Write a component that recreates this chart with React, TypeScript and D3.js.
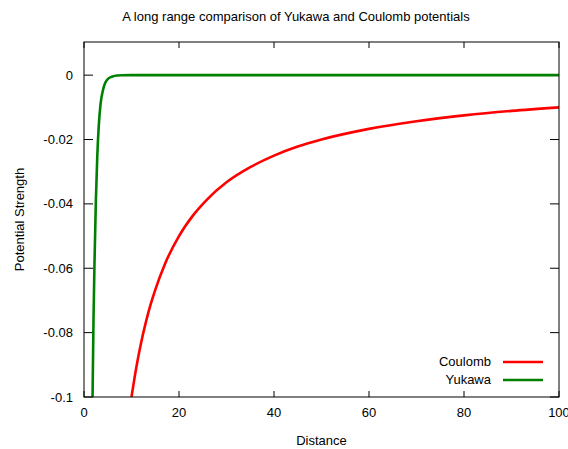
import React from 'react';
import * as d3 from 'd3';

// values
const coulombX = [10, 11, 12, 13, 14, 15, 17, 20, 23, 26, 30, 35, 40, 45, 50, 60, 70, 80, 90, 100];
const coulombY = [-0.1, -0.0909, -0.0833, -0.0769, -0.0714, -0.0667, -0.0588, -0.05, -0.0435, -0.0385, -0.0333, -0.0286, -0.025, -0.0222, -0.02, -0.0167, -0.0143, -0.0125, -0.0111, -0.01];

const yukawaX = [1.8, 2.0, 2.2, 2.5, 2.8, 3.1, 3.5, 4.0, 4.5, 5, 6, 7, 8, 10, 20, 40, 60, 80, 100];
const yukawaY = [-0.1, -0.076, -0.059, -0.039, -0.025, -0.016, -0.0088, -0.0046, -0.0023, -0.0012, -0.0004, -0.00012, -0.00004, 0, 0, 0, 0, 0, 0];

const xTicks = [0, 20, 40, 60, 80, 100];
const yTicks = [0, -0.02, -0.04, -0.06, -0.08, -0.1];

const series = [
  { name: 'Coulomb', color: '#ff0000', xs: coulombX, ys: coulombY },
  { name: 'Yukawa', color: '#008000', xs: yukawaX, ys: yukawaY },
];

const W = 568;
const H = 449;
const margin = { top: 42, right: 9, bottom: 52, left: 84 };

const App = () => {
  const x = d3.scaleLinear().domain([0, 100]).range([margin.left, W - margin.right]);
  const y = d3.scaleLinear().domain([-0.1, 0.0103]).range([H - margin.bottom, margin.top]);

  const line = d3.line<[number, number]>()
    .x(d => x(d[0]))
    .y(d => y(d[1]))
    .curve(d3.curveMonotoneX);

  const fmtY = (v: number) => (v === 0 ? '0' : String(+v.toFixed(2)));
  const x0 = x.range()[0], x1 = x.range()[1];
  const y0 = y.range()[0], y1 = y.range()[1];
  const font = '"Liberation Sans", Arial, sans-serif';

  return (
    <svg width={W} height={H} style={{ position: 'absolute', left: 0, top: 0, background: '#fff' }} fontFamily={font}>
      <defs>
        <clipPath id="plot">
          <rect x={x0} y={y1} width={x1 - x0} height={y0 - y1} />
        </clipPath>
      </defs>

      <text x={296} y={21} textAnchor="middle" fontSize={13}>
        A long range comparison of Yukawa and Coulomb potentials
      </text>

      {/* ticks, mirrored on all sides like gnuplot */}
      {xTicks.map(t => (
        <g key={'x' + t}>
          <line x1={x(t)} x2={x(t)} y1={y0} y2={y0 - 6} stroke="#000" />
          <line x1={x(t)} x2={x(t)} y1={y1} y2={y1 + 6} stroke="#000" />
          <text x={x(t)} y={y0 + 20} textAnchor="middle" fontSize={13}>{t}</text>
        </g>
      ))}
      {yTicks.map(t => (
        <g key={'y' + t}>
          <line x1={x0} x2={x0 + 9} y1={y(t)} y2={y(t)} stroke="#000" />
          <line x1={x1} x2={x1 - 9} y1={y(t)} y2={y(t)} stroke="#000" />
          <text x={x0 - 11} y={y(t) + 4.5} textAnchor="end" fontSize={13}>{fmtY(t)}</text>
        </g>
      ))}

      <g clipPath="url(#plot)">
        {series.map(s => (
          <path
            key={s.name}
            d={line(s.xs.map((v, i) => [v, s.ys[i]] as [number, number])) || ''}
            fill="none"
            stroke={s.color}
            strokeWidth={2.6}
          />
        ))}
      </g>

      <rect x={x0} y={y1} width={x1 - x0} height={y0 - y1} fill="none" stroke="#000" />

      {/* legend */}
      {series.map((s, i) => (
        <g key={'lg' + s.name}>
          <text x={491} y={366 + i * 18} textAnchor="end" fontSize={13}>{s.name}</text>
          <line x1={503} x2={543} y1={362 + i * 18} y2={362 + i * 18} stroke={s.color} strokeWidth={2.6} />
        </g>
      ))}

      <text x={(x0 + x1) / 2} y={445} textAnchor="middle" fontSize={13}>Distance</text>
      <text transform={`translate(24,${(y0 + y1) / 2}) rotate(-90)`} textAnchor="middle" fontSize={13}>
        Potential Strength
      </text>
    </svg>
  );
};

export default App;
